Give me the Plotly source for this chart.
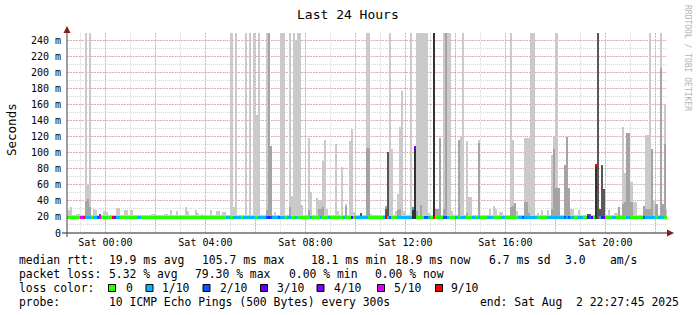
import pandas as pd
import plotly.graph_objects as go

# ---------------- data ----------------
START = "2025-08-01 22:27:45"
END = "2025-08-02 22:27:45"
FIRST_SLOT = "2025-08-01 22:25"
LAST_SLOT = "2025-08-02 22:25"

SMOKE_MIN_MS = 17.5        # bottom of the smoke
SMOKE_TOP_DEFAULT_MS = 22.0  # top of light smoke where nothing stands out
MEDIAN_DEFAULT_MS = 19.0

# light smoke (min..max of the 10 pings): slot time, top in ms
light_time = ["22:30", "22:35", "22:50", "22:55", "23:10", "23:15", "23:20", "23:30", "23:35", "23:55",
              "00:00", "00:25", "00:30", "00:45", "00:50", "01:00", "01:30", "01:50", "01:55", "02:20",
              "02:25", "02:35", "02:50", "03:10", "03:15", "03:35", "03:40", "03:50", "04:10", "04:25",
              "04:30", "04:40", "04:45", "05:00", "05:05", "05:10", "05:35", "05:45", "05:55", "06:00",
              "06:05", "06:25", "06:30", "06:35", "06:45", "07:00", "07:05", "07:20", "07:25", "07:30",
              "07:35", "07:40", "07:45", "07:50", "08:05", "08:10", "08:25", "08:30", "08:35", "08:40",
              "08:45", "08:50", "09:10", "09:15", "09:25", "09:35", "09:45", "09:50", "09:55", "10:10",
              "10:25", "10:30", "10:35", "11:10", "11:15", "11:20", "11:25", "11:35", "11:40", "11:45",
              "11:50", "11:55", "12:10", "12:15", "12:20", "12:25", "12:30", "12:35", "12:40", "12:45",
              "12:50", "12:55", "13:05", "13:10", "13:15", "13:20", "13:30", "13:35", "13:40", "13:45",
              "13:50", "14:05", "14:10", "14:15", "14:25", "14:30", "14:35", "14:55", "15:20", "15:30",
              "15:35", "15:45", "15:50", "16:10", "16:15", "16:20", "16:25", "16:45", "16:50", "16:55",
              "17:00", "17:05", "17:15", "17:25", "17:40", "17:50", "17:55", "18:00", "18:05", "18:20",
              "18:25", "18:30", "18:35", "18:40", "18:55", "19:15", "19:20", "19:35", "19:40", "19:45",
              "19:50", "19:55", "20:05", "20:20", "20:25", "20:30", "20:40", "20:45", "20:50", "20:55",
              "21:00", "21:05", "21:10", "21:30", "21:35", "21:40", "21:45", "21:50", "21:55", "22:00",
              "22:10", "22:15", "22:20", "22:25"]
light_top = [28, 32, 24, 24, 250, 60, 250, 30, 28, 27,
             26, 31, 31, 28, 28, 28, 23, 24, 24, 24,
             24, 29, 27, 32, 27, 29, 25, 24, 28, 27,
             27, 26, 26, 250, 32, 250, 250, 250, 250, 147,
             250, 250, 250, 108, 26, 250, 250, 250, 46, 250,
             240, 250, 250, 35, 118, 51, 44, 41, 41, 90,
             116, 30, 111, 27, 82, 36, 114, 129, 26, 25,
             250, 250, 24, 34, 101, 250, 104, 27, 48, 132,
             177, 27, 250, 30, 106, 250, 250, 250, 250, 250,
             250, 25, 250, 30, 30, 118, 250, 250, 250, 250,
             27, 116, 121, 250, 114, 45, 45, 116, 30, 34,
             30, 26, 26, 250, 116, 37, 27, 118, 118, 118,
             250, 250, 25, 28, 29, 97, 120, 250, 56, 84,
             119, 56, 30, 30, 28, 24, 24, 85, 250, 30,
             85, 55, 28, 25, 25, 32, 132, 74, 124, 124,
             64, 38, 38, 34, 122, 122, 250, 104, 40, 36,
             250, 36, 160, 30]

# medium smoke (inner pings)
mid_time = ["23:10", "23:15", "23:20", "06:25", "06:30", "06:35", "07:20", "08:05", "08:30", "08:35",
            "08:40", "09:35", "10:10", "10:25", "10:30", "11:10", "11:15", "11:40", "11:45", "12:15",
            "12:20", "12:25", "12:35", "13:05", "13:10", "13:15", "13:20", "13:30", "13:35", "14:05",
            "14:25", "14:55", "16:10", "16:15", "16:20", "16:45", "16:50", "16:55", "17:50", "17:55",
            "18:00", "18:05", "18:20", "18:25", "18:30", "19:15", "19:20", "19:35", "19:40", "19:45",
            "19:50", "19:55", "20:30", "20:40", "20:45", "20:50", "20:55", "21:00", "21:30", "21:35",
            "21:40", "21:45", "21:50", "22:00", "22:10", "22:15", "22:20"]
mid_top = [40, 42, 32, 28, 250, 108, 32, 28, 30, 30,
           32, 34, 25, 106, 106, 34, 101, 28, 30, 30,
           106, 27, 35, 250, 30, 30, 118, 30, 250, 116,
           25, 112, 32, 34, 37, 38, 38, 25, 30, 104,
           56, 56, 84, 119, 56, 24, 24, 85, 250, 30,
           85, 55, 32, 36, 38, 124, 124, 38, 34, 30,
           30, 30, 104, 36, 205, 36, 111]

# dark smoke (central pings)
dark_time = ["23:45", "10:10", "11:10", "11:15", "19:15", "19:20", "19:40", "19:45", "19:50", "19:55"]
dark_top = [24, 25, 30, 101, 24, 24, 250, 30, 85, 55]

# darkest core
core_time = ["12:15", "12:20", "13:05", "19:35"]
core_top = [30, 106, 250, 85]

# median rtt where it leaves the baseline
med_time = ["12:15", "12:20", "19:35", "19:40"]
med_val = [31, 106, 84, 56]

# packet loss per slot (slots not listed: 0)
loss_time = ["23:00", "23:05", "23:10", "23:15", "23:20", "23:30", "23:35", "23:40", "23:45",
             "00:15", "00:20", "00:25", "00:30", "01:15", "01:20", "04:50", "04:55", "05:05", "05:10",
             "05:15", "05:20", "05:30", "05:35", "05:40", "05:45", "05:50", "05:55", "06:05", "06:10",
             "06:15", "06:20", "06:25", "06:30", "06:35", "06:40", "06:45", "06:50", "06:55", "07:00",
             "07:05", "07:15", "07:20", "07:35", "08:10", "08:35", "08:55", "09:30", "09:50", "10:00",
             "10:05", "10:10", "10:15", "10:20", "10:25", "11:05", "11:10", "11:15", "11:20", "11:40",
             "11:45", "11:50", "11:55", "12:00", "12:05", "12:10", "12:15", "12:20", "12:45", "12:50",
             "12:55", "13:05", "13:30", "13:35", "13:40", "14:00", "14:10", "14:15", "14:20", "14:40",
             "14:45", "14:55", "15:15", "15:20", "15:25", "15:50", "15:55", "16:30", "16:35", "16:40",
             "16:45", "16:50", "16:55", "17:00", "17:05", "17:10", "17:40", "17:45", "17:50", "17:55",
             "18:00", "18:05", "18:10", "18:15", "18:20", "18:25", "18:30", "18:35", "18:40", "18:55",
             "19:00", "19:15", "19:20", "19:25", "19:35", "19:40", "19:45", "19:50", "19:55", "20:15",
             "20:20", "20:50", "20:55", "21:30", "21:35", "21:40", "21:45", "21:50", "21:55", "22:05",
             "22:10", "22:15"]
loss_level = ["5/10", "9/10", "1/10", "1/10", "1/10", "1/10", "1/10", "2/10", "5/10",
              "9/10", "4/10", "1/10", "1/10", "1/10", "1/10", "1/10", "1/10", "1/10", "1/10",
              "1/10", "1/10", "1/10", "1/10", "1/10", "1/10", "1/10", "1/10", "1/10", "1/10",
              "1/10", "1/10", "2/10", "3/10", "2/10", "1/10", "1/10", "1/10", "2/10", "1/10",
              "1/10", "1/10", "1/10", "1/10", "1/10", "1/10", "1/10", "1/10", "3/10", "1/10",
              "1/10", "1/10", "1/10", "1/10", "1/10", "1/10", "9/10", "1/10", "2/10", "1/10",
              "1/10", "1/10", "1/10", "1/10", "1/10", "1/10", "1/10", "4/10", "2/10", "2/10",
              "1/10", "9/10", "2/10", "2/10", "1/10", "1/10", "1/10", "1/10", "1/10", "1/10",
              "1/10", "1/10", "1/10", "1/10", "1/10", "1/10", "1/10", "1/10", "1/10", "2/10",
              "1/10", "1/10", "1/10", "1/10", "1/10", "1/10", "1/10", "1/10", "1/10", "1/10",
              "1/10", "1/10", "1/10", "1/10", "2/10", "1/10", "2/10", "1/10", "1/10", "1/10",
              "1/10", "3/10", "2/10", "3/10", "9/10", "9/10", "1/10", "3/10", "3/10", "1/10",
              "1/10", "1/10", "1/10", "2/10", "1/10", "1/10", "1/10", "1/10", "1/10", "1/10",
              "1/10", "1/10"]

loss_labels = ["0", "1/10", "2/10", "3/10", "4/10", "5/10", "9/10"]
loss_colors = ["#26ff00", "#00b8ff", "#0059ff", "#5e00ff", "#7e00ff", "#dd00ff", "#ff0000"]

y_tick_vals = [0, 20, 40, 60, 80, 100, 120, 140, 160, 180, 200, 220, 240]
y_tick_text = ["0", "20 m", "40 m", "60 m", "80 m", "100 m", "120 m", "140 m", "160 m",
               "180 m", "200 m", "220 m", "240 m"]
x_tick_times = ["00:00", "02:00", "04:00", "06:00", "08:00", "10:00", "12:00", "14:00",
                "16:00", "18:00", "20:00", "22:00"]
x_tick_text = ["Sat 00:00", "", "Sat 04:00", "", "Sat 08:00", "", "Sat 12:00", "",
               "Sat 16:00", "", "Sat 20:00", ""]

title_text = "Last 24 Hours"
y_title = "Seconds"
watermark = "RRDTOOL / TOBI OETIKER"
row_rtt = ["median rtt:", "19.9 ms avg", "105.7 ms max", "18.1 ms min", "18.9 ms now", "6.7 ms sd", "3.0", "am/s"]
row_loss = ["packet loss:", "5.32 % avg", "79.30 % max", "0.00 % min", "0.00 % now"]
row_color_label = "loss color:"
row_probe = ["probe:", "10 ICMP Echo Pings (500 Bytes) every 300s", "end: Sat Aug\u00a0\u00a02 22:27:45 2025"]

# ---------------- helpers ----------------
END_TS = pd.Timestamp(END)
HALF = pd.Timedelta(minutes=2.5)


def to_ts(hhmm):
    t = pd.Timestamp("2025-08-02 " + hhmm)
    if t > END_TS:
        t -= pd.Timedelta(days=1)
    return t


slots = list(pd.date_range(FIRST_SLOT, LAST_SLOT, freq="5min"))
light_map = {to_ts(t): v for t, v in zip(light_time, light_top)}
med_map = {to_ts(t): v for t, v in zip(med_time, med_val)}
loss_map = {to_ts(t): v for t, v in zip(loss_time, loss_level)}
color_of = dict(zip(loss_labels, loss_colors))

W = 300000  # bar width, ms (one 5-minute step)
fig = go.Figure()


def add_layer(times, tops, color):
    xs = [t + HALF for t in times]
    fig.add_trace(go.Bar(x=xs, y=[v - SMOKE_MIN_MS for v in tops], base=[SMOKE_MIN_MS] * len(xs),
                         width=[W] * len(xs), marker=dict(color=color, line=dict(width=0)),
                         hoverinfo="skip"))


light_vals = [light_map.get(s, SMOKE_TOP_DEFAULT_MS) for s in slots]
add_layer(slots, light_vals, "#cacaca")
add_layer([to_ts(t) for t in mid_time], mid_top, "#a4a4a4")
add_layer([to_ts(t) for t in dark_time], dark_top, "#585858")
add_layer([to_ts(t) for t in core_time], core_top, "#323232")

# median band coloured by loss
MB = 1.8
med_vals = [med_map.get(s, MEDIAN_DEFAULT_MS) for s in slots]
med_cols = [color_of[loss_map.get(s, "0")] for s in slots]
fig.add_trace(go.Bar(x=[s + HALF for s in slots], y=[2 * MB] * len(slots),
                     base=[m - MB for m in med_vals], width=[W] * len(slots),
                     marker=dict(color=med_cols, line=dict(width=0)), hoverinfo="skip"))

# ---------------- layout ----------------
L, T, PW, PH = 67, 33, 600, 200


def px(xp):
    return (xp - L) / PW


def py(yp):
    return (T + PH - yp) / PH


MAJ = "rgba(215,110,110,0.42)"
MIN = "rgba(150,150,150,0.38)"
fig.update_layout(
    width=697, height=315,
    margin=dict(l=L, r=697 - L - PW, t=T, b=315 - T - PH),
    paper_bgcolor="white", plot_bgcolor="white",
    barmode="overlay", bargap=0, showlegend=False,
    font=dict(family="DejaVu Sans Mono", size=10, color="black"),
)
fig.update_xaxes(
    type="date", range=[START, END],
    tickmode="array", tickvals=[to_ts(t) for t in x_tick_times], ticktext=x_tick_text,
    showgrid=True, gridcolor=MAJ, griddash="2px,1px", gridwidth=1,
    minor=dict(dtick=3600000, tick0="2025-08-01 23:00", showgrid=True, gridcolor=MIN,
               griddash="1px,1px", gridwidth=1),
    ticks="", showline=False, zeroline=False, ticklabelstandoff=2,
    tickfont=dict(family="DejaVu Sans Mono", size=10, color="black"),
)
fig.update_yaxes(
    range=[0, 248.7], tickmode="array", tickvals=y_tick_vals, ticktext=y_tick_text,
    showgrid=True, gridcolor=MAJ, griddash="2px,1px", gridwidth=1,
    minor=dict(dtick=10, tick0=0, showgrid=True, gridcolor=MIN, griddash="1px,1px", gridwidth=1),
    ticks="", showline=False, zeroline=False, ticklabelstandoff=5,
    tickfont=dict(family="DejaVu Sans Mono", size=10, color="black"),
)

shapes = [
    # axes
    dict(type="line", xref="paper", yref="paper", x0=px(62), x1=px(668), y0=0, y1=0,
         line=dict(color="#202020", width=1), layer="above"),
    dict(type="line", xref="paper", yref="paper", x0=0, x1=0, y0=py(237), y1=py(29),
         line=dict(color="#404040", width=1), layer="above"),
    # arrows
    dict(type="path", xref="paper", yref="paper",
         path=f"M {px(667)},{py(229.5)} L {px(674)},{py(233)} L {px(667)},{py(236.5)} Z",
         fillcolor="#7f1f1f", line=dict(width=0), layer="above"),
    dict(type="path", xref="paper", yref="paper",
         path=f"M {px(63.5)},{py(33)} L {px(67)},{py(26)} L {px(70.5)},{py(33)} Z",
         fillcolor="#7f1f1f", line=dict(width=0), layer="above"),
]

annotations = []


def text(xp, yp, s, size=11.4, anchor="left", color="black", angle=0):
    annotations.append(dict(x=px(xp), y=py(yp), xref="paper", yref="paper", text=s,
                            showarrow=False, xanchor=anchor, yanchor="middle", textangle=angle,
                            font=dict(family="DejaVu Sans Mono", size=size, color=color)))


text(348, 14, title_text, size=13, anchor="center")
text(11, 130, y_title, size=12.5, anchor="center", angle=-90)
text(688, 58, watermark, size=8, anchor="center", color="#b4b4b4", angle=90)

for xp, s in zip([17, 107, 200, 309, 393, 487, 563, 608], row_rtt):
    text(xp, 260, s)
for xp, s in zip([17, 107, 193, 287, 373], row_loss):
    text(xp, 274, s)
text(17, 288, row_color_label)
sq_x = [108.5, 146, 203, 260.5, 317, 377.5, 435.5]
lab_x = [124, 160, 218, 275, 332, 392, 449]
for sx, lx, lab, col in zip(sq_x, lab_x, loss_labels, loss_colors):
    shapes.append(dict(type="rect", xref="paper", yref="paper", x0=px(sx), x1=px(sx + 7),
                       y0=py(284.5), y1=py(291.5), fillcolor=col, line=dict(color="black", width=1)))
    text(lx, 288, lab)
for xp, s in zip([17, 107, 478], row_probe):
    text(xp, 302, s)

fig.update_layout(shapes=shapes, annotations=annotations)
fig.write_html("out.html")
